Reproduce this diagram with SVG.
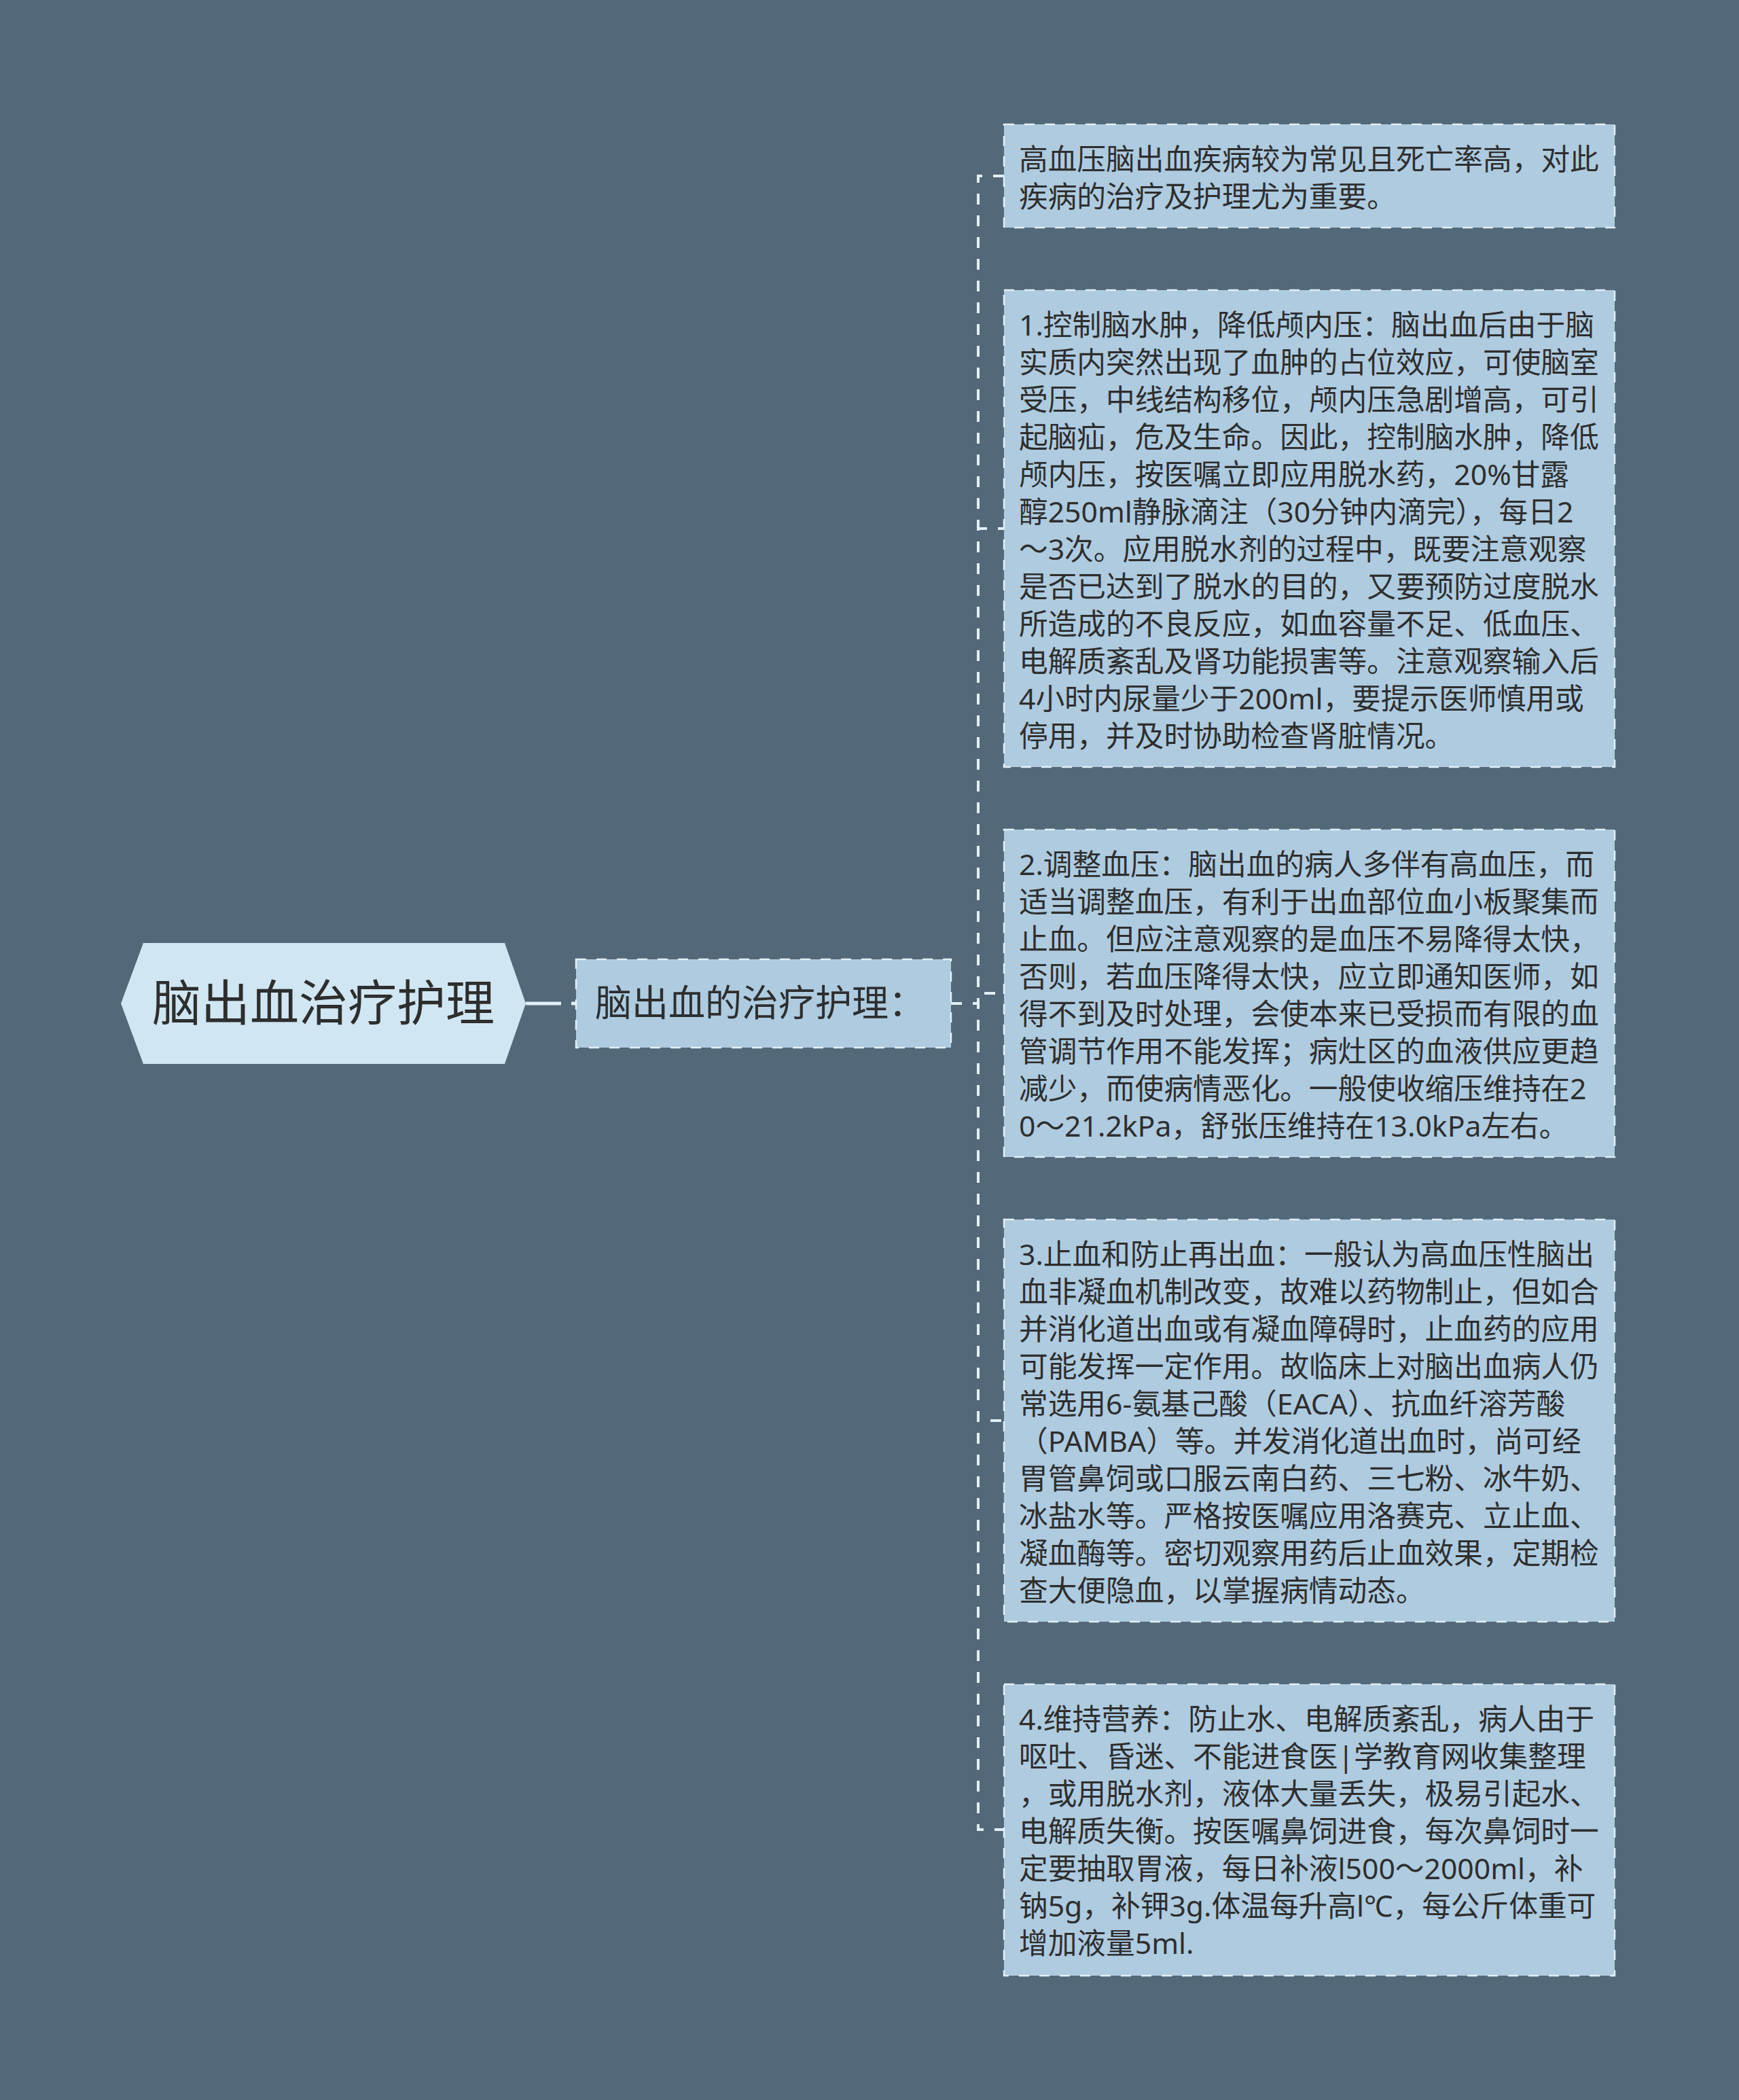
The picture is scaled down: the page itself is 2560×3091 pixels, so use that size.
<svg xmlns="http://www.w3.org/2000/svg" width="2560" height="3091" viewBox="0 0 2560 3091">
<style>
.bg{fill:#536878}
.leaf{fill:#aecbe0;stroke:#e1eff8;stroke-width:2.5;stroke-dasharray:15 15}
.root{fill:#d0e6f2}
.t{font-family:"Noto Sans","Noto Sans CJK SC",sans-serif;fill:#2e2e2e}
.lt{font-size:42.7px}
.conn{fill:none;stroke:#e1eff8;stroke-width:4;stroke-dasharray:16 16}
</style>
<rect class="bg" x="0" y="0" width="2560" height="3091"/>
<g id="connectors">
<path d="M774,1477 H848" fill="none" stroke="#e1eff8" stroke-width="5" stroke-dasharray="52 15"/>
<path class="conn" d="M1400,1477 H1440 V259 H1478"/>
<path class="conn" d="M1400,1477 H1440 V778 H1478"/>
<path class="conn" d="M1400,1477 H1440 V1462 H1478"/>
<path class="conn" d="M1400,1477 H1440 V2091 H1478"/>
<path class="conn" d="M1400,1477 H1440 V2693 H1478"/>
</g>
<g id="root">
<polygon class="root" points="178,1477 211,1388 743,1388 774,1477 743,1566 211,1566"/>
<text class="t" x="476" y="1502" font-size="72" text-anchor="middle">脑出血治疗护理</text>
</g>
<g id="child">
<rect class="leaf" x="848" y="1412" width="552" height="130"/>
<text class="t" x="876" y="1496" font-size="54">脑出血的治疗护理：</text>
</g>
<g id="leaf1">
<rect class="leaf" x="1478" y="183" width="899" height="152"/>
<text class="t lt" x="1500" y="250"><tspan x="1500">高血压脑出血疾病较为常见且死亡率高，对此</tspan><tspan x="1500" dy="55">疾病的治疗及护理尤为重要。</tspan></text>
</g>
<g id="leaf2">
<rect class="leaf" x="1478" y="427" width="899" height="702"/>
<text class="t lt" x="1500" y="494"><tspan x="1500">1.控制脑水肿，降低颅内压：脑出血后由于脑</tspan><tspan x="1500" dy="55">实质内突然出现了血肿的占位效应，可使脑室</tspan><tspan x="1500" dy="55">受压，中线结构移位，颅内压急剧增高，可引</tspan><tspan x="1500" dy="55">起脑疝，危及生命。因此，控制脑水肿，降低</tspan><tspan x="1500" dy="55">颅内压，按医嘱立即应用脱水药，20%甘露</tspan><tspan x="1500" dy="55">醇250ml静脉滴注（30分钟内滴完），每日2</tspan><tspan x="1500" dy="55">～3次。应用脱水剂的过程中，既要注意观察</tspan><tspan x="1500" dy="55">是否已达到了脱水的目的，又要预防过度脱水</tspan><tspan x="1500" dy="55">所造成的不良反应，如血容量不足、低血压、</tspan><tspan x="1500" dy="55">电解质紊乱及肾功能损害等。注意观察输入后</tspan><tspan x="1500" dy="55">4小时内尿量少于200ml，要提示医师慎用或</tspan><tspan x="1500" dy="55">停用，并及时协助检查肾脏情况。</tspan></text>
</g>
<g id="leaf3">
<rect class="leaf" x="1478" y="1221" width="899" height="482"/>
<text class="t lt" x="1500" y="1288"><tspan x="1500">2.调整血压：脑出血的病人多伴有高血压，而</tspan><tspan x="1500" dy="55">适当调整血压，有利于出血部位血小板聚集而</tspan><tspan x="1500" dy="55">止血。但应注意观察的是血压不易降得太快，</tspan><tspan x="1500" dy="55">否则，若血压降得太快，应立即通知医师，如</tspan><tspan x="1500" dy="55">得不到及时处理，会使本来已受损而有限的血</tspan><tspan x="1500" dy="55">管调节作用不能发挥；病灶区的血液供应更趋</tspan><tspan x="1500" dy="55">减少，而使病情恶化。一般使收缩压维持在2</tspan><tspan x="1500" dy="55">0～21.2kPa，舒张压维持在13.0kPa左右。</tspan></text>
</g>
<g id="leaf4">
<rect class="leaf" x="1478" y="1795" width="899" height="592"/>
<text class="t lt" x="1500" y="1862"><tspan x="1500">3.止血和防止再出血：一般认为高血压性脑出</tspan><tspan x="1500" dy="55">血非凝血机制改变，故难以药物制止，但如合</tspan><tspan x="1500" dy="55">并消化道出血或有凝血障碍时，止血药的应用</tspan><tspan x="1500" dy="55">可能发挥一定作用。故临床上对脑出血病人仍</tspan><tspan x="1500" dy="55">常选用6-氨基己酸（EACA）、抗血纤溶芳酸</tspan><tspan x="1500" dy="55">（PAMBA）等。并发消化道出血时，尚可经</tspan><tspan x="1500" dy="55">胃管鼻饲或口服云南白药、三七粉、冰牛奶、</tspan><tspan x="1500" dy="55">冰盐水等。严格按医嘱应用洛赛克、立止血、</tspan><tspan x="1500" dy="55">凝血酶等。密切观察用药后止血效果，定期检</tspan><tspan x="1500" dy="55">查大便隐血，以掌握病情动态。</tspan></text>
</g>
<g id="leaf5">
<rect class="leaf" x="1478" y="2479" width="899" height="429"/>
<text class="t lt" x="1500" y="2546"><tspan x="1500">4.维持营养：防止水、电解质紊乱，病人由于</tspan><tspan x="1500" dy="55">呕吐、昏迷、不能进食医|学教育网收集整理</tspan><tspan x="1500" dy="55">，或用脱水剂，液体大量丢失，极易引起水、</tspan><tspan x="1500" dy="55">电解质失衡。按医嘱鼻饲进食，每次鼻饲时一</tspan><tspan x="1500" dy="55">定要抽取胃液，每日补液l500～2000ml，补</tspan><tspan x="1500" dy="55">钠5g，补钾3g.体温每升高l℃，每公斤体重可</tspan><tspan x="1500" dy="55">增加液量5ml.</tspan></text>
</g>
</svg>
